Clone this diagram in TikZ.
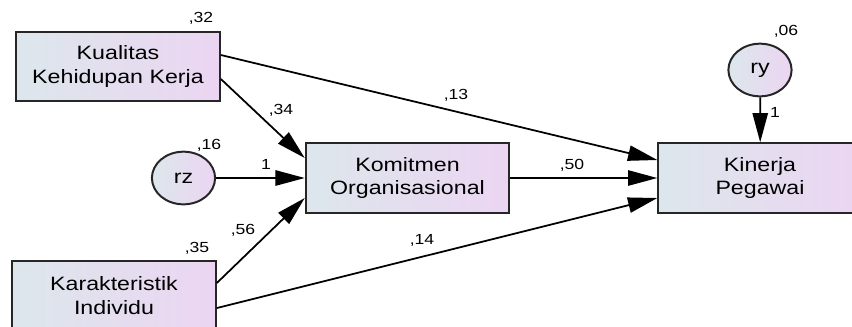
\documentclass[tikz,border=0pt]{standalone}
\usepackage{fontspec}
\setmainfont{Liberation Sans}
\usetikzlibrary{arrows.meta}
\definecolor{boxleft}{RGB}{220,231,236}
\definecolor{boxright}{RGB}{236,213,242}

\begin{document}
\begin{tikzpicture}[x=0.25mm, y=-0.3mm, xscale=1.2,
    every node/.style={transform shape},
    var/.style={draw=black!85, line width=1.7pt, left color=boxleft, right color=boxright,
        minimum width=50.8mm, minimum height=20.8mm, align=center,
        font=\fontsize{16.5}{20}\selectfont},
    err/.style={circle, draw=black!85, line width=1.7pt, left color=boxleft, right color=boxright,
        minimum size=15.8mm, inner sep=0pt, font=\fontsize{16.5}{20}\selectfont},
    lbl/.style={inner sep=0pt, font=\fontsize{12.5}{14}\selectfont},
    arr/.style={-{Triangle[length=8.8mm, width=4.6mm]}, line width=1.5pt}]
    \path[use as bounding box, clip] (0,0) rectangle (852,326);

    \node[var] (kk) at (118,66.5) {Kualitas\\Kehidupan Kerja};
    \node[var] (ki) at (114,295.5) {Karakteristik\\Individu};
    \node[var] (km) at (407.5,178) {Komitmen\\Organisasional};
    \node[var] (kn) at (760,178) {Kinerja\\Pegawai};
    \node[err] (rz) at (183.5,178) {rz};
    \node[err] (ry) at (760,70) {ry};

    \draw[arr] ([yshift=3.45mm]kk.east) -- ([yshift=5.4mm]kn.west);
    \draw[arr] ([yshift=-3.75mm]kk.east) -- ([yshift=6mm]km.west);
    \draw[arr] (rz) -- (km);
    \draw[arr] ([yshift=3.75mm]ki.east) -- ([yshift=-6mm]km.west);
    \draw[arr] ([yshift=-3.75mm]ki.east) -- ([yshift=-6mm]kn.west);
    \draw[arr] (km) -- (kn);
    \draw[arr] (ry) -- (kn);

    \node[lbl] (v32) at (201,18.5) {,32};
    \node[lbl] (v16) at (209,145) {,16};
    \node[lbl] (v35) at (197,248) {,35};
    \node[lbl] (v06) at (786,31) {,06};
    \node[lbl] (w34) at (281,110) {,34};
    \node[lbl] (w13) at (456,95) {,13};
    \node[lbl] (w56) at (243,230) {,56};
    \node[lbl] (w14) at (422,240) {,14};
    \node[lbl] (w50) at (572,165) {,50};
    \node[lbl] (wrz) at (266,164) {1};
    \node[lbl] (wry) at (775,112) {1};
\end{tikzpicture}
\end{document}
